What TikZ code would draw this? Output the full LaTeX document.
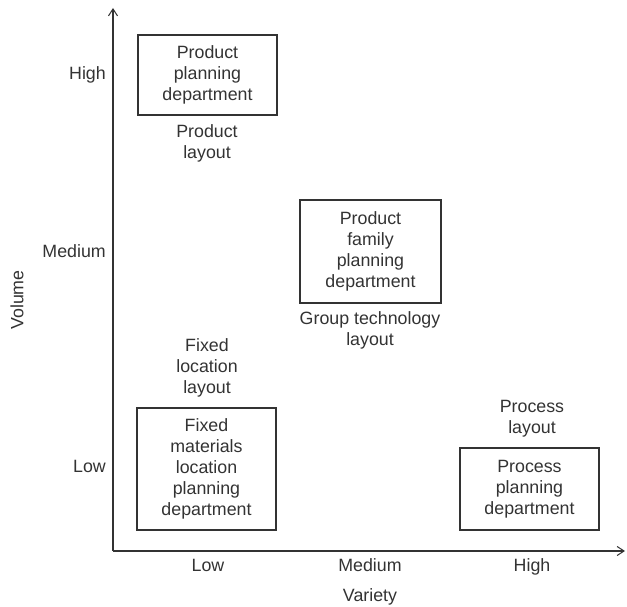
\documentclass[tikz,border=0pt]{standalone}
\usepackage{fontspec}
\setmainfont{Liberation Sans}
\usetikzlibrary{arrows.meta}
\definecolor{ink}{HTML}{333333}
\tikzset{
  txt/.style={text=ink, font=\fontsize{17.8}{21}\selectfont, align=center, inner sep=0pt},
  boxnode/.style={txt, draw=ink, line width=1.3pt},
  axis/.style={draw=ink, line width=1.1pt, -{Straight Barb[length=7pt,width=9pt,line width=1pt]}}
}
\begin{document}
\begin{tikzpicture}[x=1pt,y=-1pt]
\useasboundingbox (0,0) rectangle (627,607);
% axes
\coordinate (o) at (113,551);
\coordinate (ytip) at (113,8);
\coordinate (xtip) at (625,551);
\draw[axis] (o) -- (ytip);
\draw[axis] (o) -- (xtip);
% y labels
\node[txt, anchor=base east] (yh) at (106,79.5) {High};
\node[txt, anchor=base east] (ym) at (106,257.5) {Medium};
\node[txt, anchor=base east] (yl) at (106,472) {Low};
\node[txt, rotate=90] (yv) at (17,300) {Volume};
% x labels
\node[txt, anchor=base] (xl) at (208,571.5) {Low};
\node[txt, anchor=base] (xm) at (370,571.5) {Medium};
\node[txt, anchor=base] (xh) at (532,571.5) {High};
\node[txt, anchor=base] (xv) at (370,601) {Variety};
% boxes
\node[boxnode, minimum width=139pt, minimum height=80pt] (pp) at (207.5,75) {Product\\planning\\department};
\node[boxnode, minimum width=141pt, minimum height=103pt] (pf) at (370.5,251.5) {Product\\family\\planning\\department};
\node[boxnode, minimum width=139pt, minimum height=122pt] (fm) at (206.5,469) {Fixed\\materials\\location\\planning\\department};
\node[boxnode, minimum width=139pt, minimum height=82pt] (pr) at (529.5,489) {Process\\planning\\department};
% layout labels
\node[txt] (pl) at (207,143.5) {Product\\layout};
\node[txt] (gl) at (370,330.5) {Group technology\\layout};
\node[txt] (fl) at (207,368) {Fixed\\location\\layout};
\node[txt] (prl) at (532,418.5) {Process\\layout};
\end{tikzpicture}
\end{document}
